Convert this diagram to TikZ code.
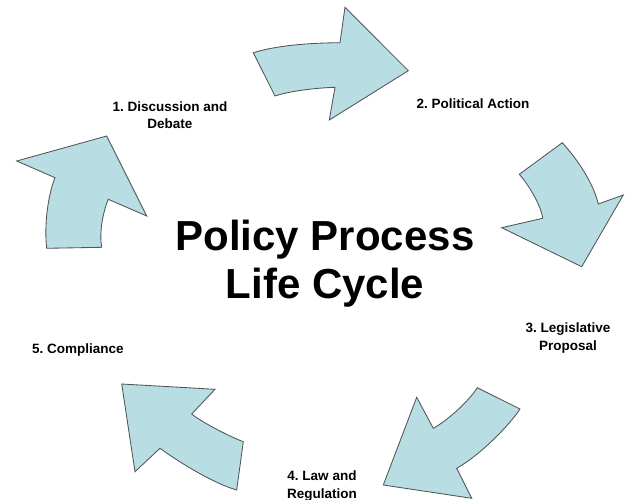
\documentclass[tikz,border=0pt]{standalone}
\usepackage{fontspec}
\setmainfont{Liberation Sans}
\frenchspacing
\definecolor{arrowfill}{RGB}{184,221,226}
\definecolor{arrowline}{RGB}{80,85,88}
\tikzset{
  cyclearrow/.style={fill=arrowfill, draw=arrowline, line width=0.85pt, line join=miter},
  steplabel/.style={font=\fontsize{13.5}{17.5}\selectfont\bfseries, align=center, inner sep=0pt},
  titletext/.style={font=\fontsize{42}{48}\selectfont\bfseries, align=center, inner sep=0pt}
}
\begin{document}
\begin{tikzpicture}[x=1pt,y=-1pt]
\useasboundingbox (0,0) rectangle (625,500);
\fill[white] (0,0) rectangle (625,500);

% Arrow 1 (top)
\draw[cyclearrow] (253.3,52.7) .. controls (275,46) and (305,43) .. (340,42.7)
  -- (345,7.3) -- (408.3,70.7) -- (329.3,120) -- (335,87.3)
  .. controls (315,88) and (290,91) .. (275,96) -- cycle;

% Arrow 2 (right)
\draw[cyclearrow] (562.3,142.7) .. controls (577,159) and (593,182) .. (598.3,204)
  -- (623.3,195) -- (581.7,266.7) -- (501.7,227.7) -- (542.7,218.3)
  .. controls (541,205) and (528,184) .. (519.3,174.3) -- cycle;

% Arrow 3 (bottom right)
\draw[cyclearrow] (477.3,387.7) -- (520,409)
  .. controls (508,427) and (480,455) .. (456.7,468.3)
  -- (471.7,498.3) -- (383.3,485) -- (416.7,397.3) -- (433.3,428.3)
  .. controls (448,420) and (468,402) .. cycle;

% Arrow 4 (bottom left)
\draw[cyclearrow] (121.7,384) -- (215,389.3) -- (191.7,414)
  .. controls (200,421) and (228,436) .. (243.3,441.7)
  -- (236.7,490)
  .. controls (215,484) and (180,463) .. (160,448.3)
  -- (135,471.7) -- cycle;

% Arrow 5 (left)
\draw[cyclearrow] (46.7,248.3) -- (101.7,247.3)
  .. controls (99,232) and (103,212) .. (108.3,199.3)
  -- (146.7,216) -- (106.7,136) -- (16.7,161) -- (55,177.7)
  .. controls (48,195) and (44,225) .. cycle;

% Title
\node[titletext] (title) at (325,264) {Policy Process\\Life Cycle};

% Step labels
\node[steplabel] (s1) at (170,115) {1. Discussion and\\Debate};
\node[steplabel] (s2) at (473,104) {2. Political Action};
\node[steplabel] (s3) at (568,338) {3. Legislative\\Proposal};
\node[steplabel] (s4) at (322,486) {4. Law and\\Regulation};
\node[steplabel] (s5) at (78,350) {5. Compliance};
\end{tikzpicture}
\end{document}
